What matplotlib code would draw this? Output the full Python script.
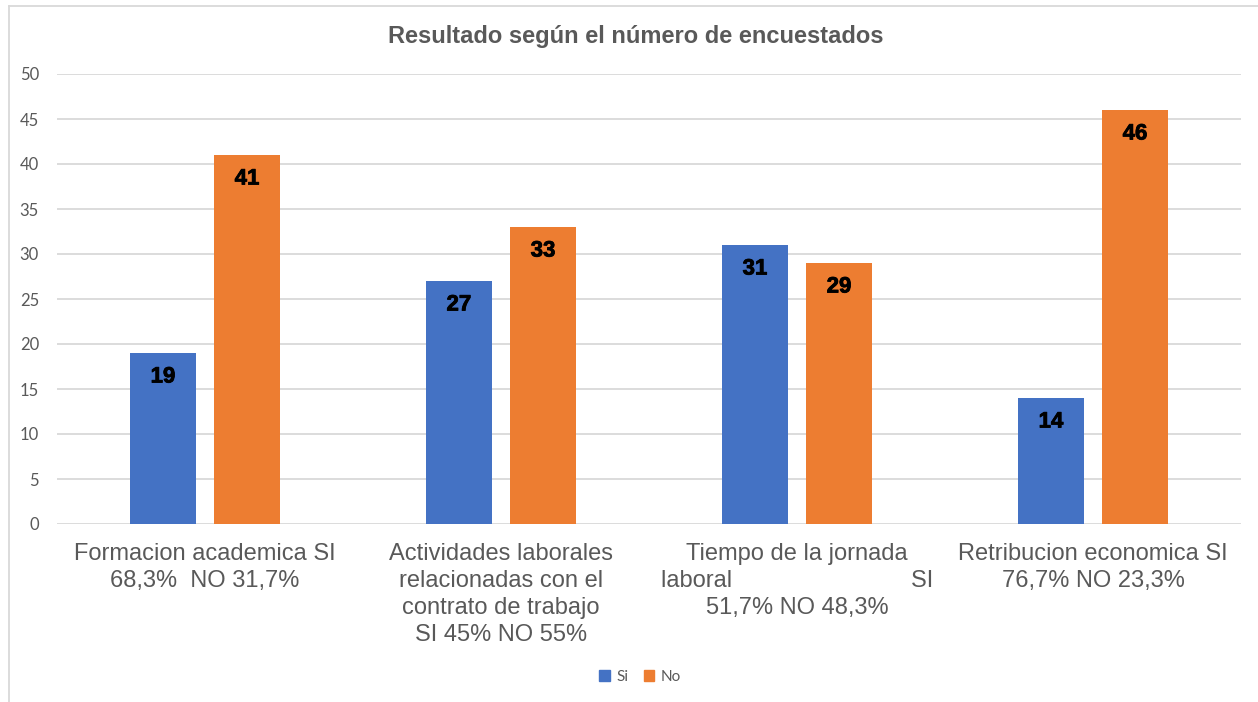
import numpy as np
import matplotlib.pyplot as plt
from matplotlib.lines import Line2D
from matplotlib.patches import Patch
import matplotlib.patheffects as pe

# data
categories = [
    'Formacion academica SI\n68,3%  NO 31,7%',
    'Actividades laborales\nrelacionadas con el\ncontrato de trabajo\nSI 45% NO 55%',
    'Tiempo de la jornada\nlaboral' + ' ' * 27 + 'SI\n51,7% NO 48,3%',
    'Retribucion economica SI\n76,7% NO 23,3%',
]
si_values = [19, 27, 31, 14]
no_values = [41, 33, 29, 46]
series_names = ['Si', 'No']
yticks = list(range(0, 55, 5))

BLUE = '#4472C4'
ORANGE = '#ED7D31'
GREY = '#595959'

fig = plt.figure(figsize=(12.58, 7.02), dpi=100)
ax = fig.add_axes([57 / 1258, 1 - 524 / 702, 1184 / 1258, 450 / 702])

x = np.arange(len(categories))
width = 0.226
offset = 0.142

bars_si = ax.bar(x - offset, si_values, width, color=BLUE, zorder=3)
bars_no = ax.bar(x + offset, no_values, width, color=ORANGE, zorder=3)

# data labels inside the bar ends
for bars in (bars_si, bars_no):
    for b in bars:
        ax.annotate(f'{int(b.get_height())}',
                    (b.get_x() + b.get_width() / 2, b.get_height()),
                    xytext=(0, -24), textcoords='offset pixels',
                    ha='center', va='center', fontsize=16, fontweight='bold',
                    family='Liberation Sans', color='black', zorder=4,
                    path_effects=[pe.withStroke(linewidth=0.6, foreground='black')])

ax.set_xlim(-0.5, len(categories) - 0.5)
ax.set_ylim(0, 50)
ax.set_yticks(yticks)
ax.set_xticks(x)
ax.set_xticklabels(categories, fontsize=17, family='Liberation Sans',
                   color=GREY, linespacing=1.28)
ax.tick_params(axis='x', length=0, pad=14)
ax.tick_params(axis='y', length=0, pad=13, labelsize=12, labelcolor=GREY)
for lab in ax.get_yticklabels():
    lab.set_family('Lato')

ax.grid(axis='y', color='#D9D9D9', linewidth=1.3, zorder=0)
for s in ax.spines.values():
    s.set_visible(False)

fig.text(636 / 1258, 1 - 37 / 702, 'Resultado según el número de encuestados',
         ha='center', va='center', fontsize=17, fontweight='bold',
         family='Liberation Sans', color=GREY)

handles = [Patch(color=BLUE, label=series_names[0]),
           Patch(color=ORANGE, label=series_names[1])]
fig.legend(handles=handles, loc='center', bbox_to_anchor=(640 / 1258, 1 - 677 / 702),
           ncol=2, frameon=False, handlelength=0.7, handleheight=0.7,
           handletextpad=0.4, columnspacing=1.0,
           prop={'family': 'Lato', 'size': 11}, labelcolor=GREY)

# chart frame edges
fig.add_artist(Line2D([9 / 1258, 1], [1 - 6 / 702, 1 - 6 / 702],
                      color='#D9D9D9', linewidth=1.3))
fig.add_artist(Line2D([9 / 1258, 9 / 1258], [0, 1 - 6 / 702],
                      color='#D9D9D9', linewidth=1.3))

fig.savefig('out.png', dpi=100)
